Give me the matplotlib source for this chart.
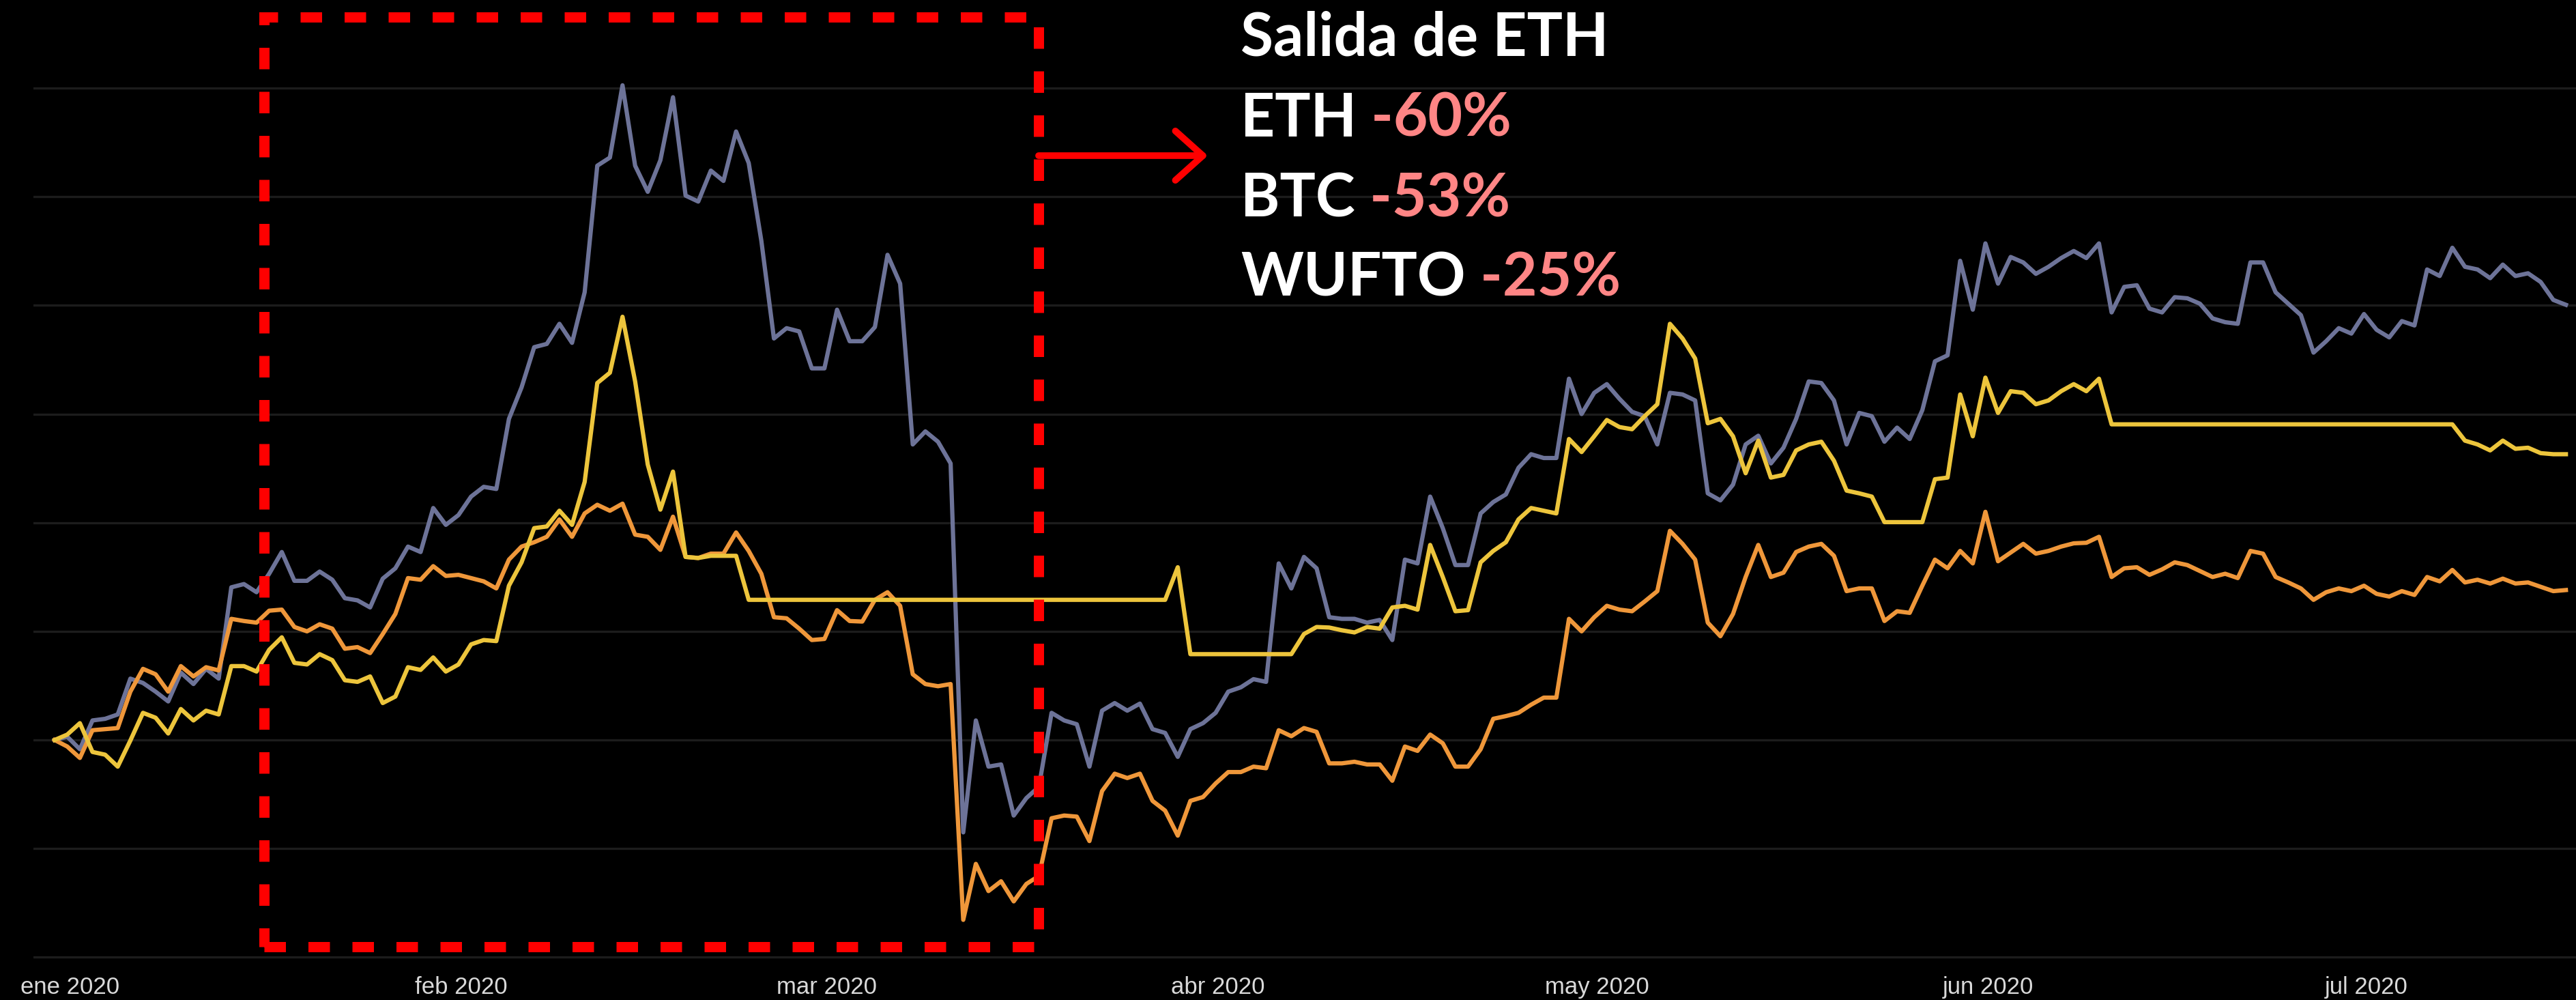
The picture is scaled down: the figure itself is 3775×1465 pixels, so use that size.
import matplotlib.pyplot as plt
from matplotlib.patches import Rectangle, FancyArrowPatch
import numpy as np

# daily % return since 1 Jan 2020
eth = [0, 0.6, -1.7, 3.6, 3.9, 4.7, 11.3, 10.5, 8.9, 7.1,
       12.4, 10.3, 13.1, 11.3, 28.1, 28.7, 27.2, 30.6, 34.6, 29.3,
       29.3, 31.0, 29.5, 26.1, 25.7, 24.4, 29.7, 31.6, 35.6, 34.6,
       42.7, 39.6, 41.4, 44.8, 46.6, 46.2, 59.1, 64.9, 72.3, 72.9,
       76.6, 73.1, 82.4, 105.7, 107.2, 120.5, 105.7, 100.9, 106.7, 118.3,
       100.2, 99.1, 104.8, 102.9, 112.0, 106.2, 91.9, 73.9, 75.8, 75.2,
       68.4, 68.4, 79.2, 73.4, 73.4, 76.0, 89.3, 84.0, 54.4, 56.8,
       54.9, 50.9, -17.0, 3.6, -4.9, -4.5, -13.9, -10.7, -8.6, 5.0,
       3.6, 2.9, -4.9, 5.4, 6.8, 5.4, 6.7, 2.0, 1.3, -3.1,
       2.0, 3.1, 5.0, 8.9, 9.7, 11.2, 10.7, 32.5, 27.9, 33.7,
       31.6, 22.6, 22.3, 22.3, 21.6, 22.1, 18.4, 33.2, 32.5, 44.8,
       39.0, 32.2, 32.2, 41.7, 43.8, 45.2, 50.1, 52.6, 51.9, 51.9,
       66.5, 60.0, 63.9, 65.5, 62.8, 60.4, 59.6, 54.4, 63.9, 63.6,
       62.5, 45.4, 44.1, 47.0, 54.4, 56.0, 50.9, 53.8, 59.1, 66.0,
       65.7, 62.5, 54.4, 60.2, 59.6, 54.9, 57.5, 55.4, 60.7, 69.7,
       70.8, 88.2, 79.2, 91.4, 84.0, 88.9, 87.9, 85.8, 87.1, 88.7,
       90.0, 88.7, 91.4, 78.7, 83.4, 83.7, 79.4, 78.7, 81.5, 81.3,
       80.3, 77.6, 76.9, 76.6, 87.9, 87.9, 82.4, 80.3, 78.2, 71.3,
       73.4, 75.8, 74.8, 78.4, 75.5, 74.1, 77.1, 76.3, 86.6, 85.4,
       90.6, 87.1, 86.6, 85.0, 87.5, 85.4, 85.9, 84.3, 81.0, 80.1]

btc = [0, -1.2, -3.3, 1.8, 2.0, 2.2, 8.9, 13.1, 12.1, 8.9,
       13.6, 11.7, 13.4, 12.8, 22.3, 21.9, 21.6, 23.8, 24.0, 20.8,
       20.0, 21.3, 20.5, 16.8, 17.1, 16.0, 19.5, 23.2, 29.8, 29.5,
       32.0, 30.2, 30.4, 29.8, 29.2, 27.9, 33.2, 35.6, 36.4, 37.4,
       40.6, 37.4, 41.7, 43.3, 42.2, 43.5, 37.8, 37.4, 35.0, 41.1,
       33.7, 33.5, 34.3, 34.3, 38.2, 34.8, 30.6, 22.6, 22.4, 20.5,
       18.4, 18.6, 23.9, 21.9, 21.8, 25.8, 27.2, 24.7, 12.1, 10.3,
       9.9, 10.3, -33.1, -22.8, -27.8, -26.0, -29.7, -26.5, -25.0, -14.4,
       -13.9, -14.1, -18.6, -9.4, -6.2, -7.0, -6.2, -11.2, -13.0, -17.6,
       -11.2, -10.5, -8.0, -5.9, -5.9, -4.9, -5.2, 1.8, 0.7, 2.2,
       1.5, -4.3, -4.3, -4.0, -4.5, -4.5, -7.5, -1.2, -2.0, 1.0,
       -0.6, -4.9, -4.9, -1.7, 3.9, 4.4, 5.0, 6.5, 7.8, 7.8,
       22.3, 20.0, 22.6, 24.7, 24.0, 23.7, 25.5, 27.4, 38.5, 36.1,
       33.2, 21.6, 19.1, 23.2, 30.0, 35.9, 30.0, 30.8, 34.6, 35.6,
       36.1, 33.9, 27.4, 27.9, 27.9, 21.9, 23.7, 23.4, 28.4, 33.2,
       31.6, 34.8, 32.5, 42.0, 32.9, 34.5, 36.1, 34.3, 34.8, 35.6,
       36.2, 36.3, 37.4, 30.0, 31.6, 31.8, 30.4, 31.4, 32.7, 32.2,
       31.1, 30.0, 30.6, 29.8, 34.8, 34.3, 30.0, 29.0, 27.9, 25.8,
       27.2, 27.9, 27.4, 28.4, 26.9, 26.4, 27.4, 26.7, 30.0, 29.2,
       31.3, 29.0, 29.5, 28.8, 29.7, 28.8, 29.0, 28.2, 27.4, 27.6]

wufto = [0, 1.0, 3.1, -2.2, -2.7, -4.9, -0.1, 5.0, 4.1, 1.2,
         5.7, 3.6, 5.4, 4.7, 13.6, 13.6, 12.6, 16.6, 18.9, 14.2,
         13.9, 15.8, 14.7, 11.0, 10.7, 11.7, 6.8, 8.0, 13.4, 12.9,
         15.2, 12.6, 13.9, 17.6, 18.4, 18.2, 28.4, 32.7, 39.0, 39.3,
         42.2, 39.6, 47.5, 65.7, 67.6, 77.9, 66.0, 50.7, 42.4, 49.4,
         33.7, 33.5, 33.9, 33.9, 33.9, 25.8, 25.8, 25.8, 25.8, 25.8,
         25.8, 25.8, 25.8, 25.8, 25.8, 25.8, 25.8, 25.8, 25.8, 25.8,
         25.8, 25.8, 25.8, 25.8, 25.8, 25.8, 25.8, 25.8, 25.8, 25.8,
         25.8, 25.8, 25.8, 25.8, 25.8, 25.8, 25.8, 25.8, 25.8, 31.8,
         15.8, 15.8, 15.8, 15.8, 15.8, 15.8, 15.8, 15.8, 15.8, 19.5,
         20.8, 20.7, 20.2, 19.8, 20.8, 20.5, 24.4, 24.7, 24.0, 35.9,
         30.0, 23.7, 23.9, 32.7, 34.8, 36.4, 40.6, 42.7, 42.2, 41.7,
         55.4, 53.0, 55.9, 58.9, 57.6, 57.2, 59.6, 61.8, 76.6, 73.9,
         70.2, 58.3, 59.1, 55.9, 49.1, 55.1, 48.3, 48.8, 53.3, 54.4,
         54.9, 51.4, 45.9, 45.4, 44.8, 40.1, 40.1, 40.1, 40.1, 48.0,
         48.3, 63.6, 55.9, 66.7, 60.2, 64.2, 63.9, 61.8, 62.5, 64.2,
         65.5, 64.2, 66.5, 58.1, 58.1, 58.1, 58.1, 58.1, 58.1, 58.1,
         58.1, 58.1, 58.1, 58.1, 58.1, 58.1, 58.1, 58.1, 58.1, 58.1,
         58.1, 58.1, 58.1, 58.1, 58.1, 58.1, 58.1, 58.1, 58.1, 58.1,
         58.1, 55.1, 54.4, 53.3, 55.1, 53.6, 53.8, 52.8, 52.6, 52.6]

month_start = [0, 31, 60, 91, 121, 152, 182]
month_labels = ["ene 2020", "feb 2020", "mar 2020", "abr 2020",
                "may 2020", "jun 2020", "jul 2020"]

W, H = 3775, 1465
fig = plt.figure(figsize=(W / 100, H / 100), dpi=100, facecolor="black")
ax = fig.add_axes([49 / W, (H - 1420) / H, 1 - 49 / W, 1420 / H])
ax.set_facecolor("black")

days = np.arange(len(eth))
ax.plot(days, eth, color="#6d7398", lw=4.5, solid_joinstyle="round", zorder=3)
ax.plot(days, btc, color="#ef973a", lw=4.5, solid_joinstyle="round", zorder=4)
ax.plot(days, wufto, color="#edc53c", lw=4.5, solid_joinstyle="round", zorder=5)

ax.set_xlim(-1.68, 199.8)
ax.set_ylim(-42.2, 136.2)
ax.set_yticks(np.arange(-40, 121, 20))
ax.grid(axis="y", color="#1c1c1c", lw=2.4)
ax.tick_params(axis="y", left=False, labelleft=False)
ax.set_xticks(np.array(month_start) + 1.2)
ax.set_xticklabels(month_labels, fontsize=25, color="#d9d9d9",
                   family=["Liberation Sans", "DejaVu Sans"])
ax.tick_params(axis="x", length=0, pad=7)
for s in ax.spines.values():
    s.set_visible(False)

# dashed box around the ETH exit period
box = Rectangle((387 / W, (H - 1387) / H), (1522 - 387) / W, (1387 - 25) / H,
                transform=fig.transFigure, fill=False, edgecolor="#ff0000",
                lw=10.8, linestyle=(0, (2.1, 2.2)), capstyle="butt", zorder=10)
fig.add_artist(box)

arrow = FancyArrowPatch((1522 / W, (H - 228) / H), (1770 / W, (H - 228) / H),
                        transform=fig.transFigure, color="#ff0000", lw=7,
                        arrowstyle="->,head_length=0.29,head_width=0.26",
                        mutation_scale=100, capstyle="round", joinstyle="round",
                        shrinkA=0, shrinkB=0)
fig.add_artist(arrow)

font = dict(fontsize=63, fontweight="bold", family=["Lato", "DejaVu Sans"])
tx = 1818 / W
fig.text(tx, (H - 82) / H, "Salida de ETH", color="white", va="baseline", **font)
rows = [("ETH", " -60%", 200), ("BTC", " -53%", 317), ("WUFTO", " -25%", 433)]
for name, pct, yb in rows:
    t = fig.text(tx, (H - yb) / H, name, color="white", va="baseline", **font)
    ax.annotate(pct, xy=(1, 0), xycoords=t, va="bottom", ha="left",
                color="#ff8585", annotation_clip=False, **font)

fig.savefig("out.png", dpi=100, facecolor="black")
